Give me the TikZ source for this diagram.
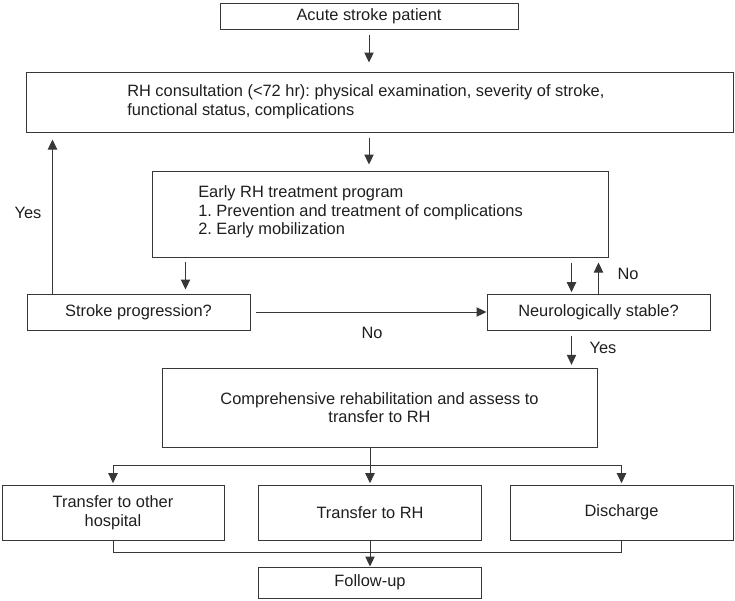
\documentclass[tikz,border=0pt]{standalone}
\usepackage{fontspec}
\setmainfont{Liberation Sans}
\usetikzlibrary{arrows.meta}
\definecolor{boxline}{RGB}{55, 55, 55}
\definecolor{boxtext}{RGB}{30, 30, 30}
\frenchspacing

\begin{document}
\begin{tikzpicture}[x=0.75pt, y=-0.75pt,
        box/.style={draw=boxline, line width=0.75pt, inner sep=0pt, text=boxtext, align=center,
                    font=\fontsize{12.3}{14}\selectfont},
        txt/.style={text=boxtext, inner sep=0pt, font=\fontsize{12.3}{14}\selectfont},
        flow/.style={draw=boxline, line width=0.75pt, -{Triangle[length=7.5pt, width=7pt]}},
        wire/.style={draw=boxline, line width=0.75pt}]
        \useasboundingbox (0,0) rectangle (735,600);
            \node[box, minimum width=223.50pt, minimum height=19.50pt] (acute)  at (369.0, 16.0) {Acute stroke patient};
            \node[box, minimum width=530.25pt, minimum height=45.00pt] (rh)     at (379.5,102.0) {};
            \node[txt, anchor=west, align=left]                       (rhtext) at (127.0,102.0)
                 {RH consultation (<72 hr): physical examination, severity of stroke,\\functional status, complications};
            \node[box, minimum width=342.00pt, minimum height=64.50pt] (early)  at (380.0,214.0) {};
            \node[txt, anchor=west, align=left]                       (earlytext) at (198.0,212.0)
                 {Early RH treatment program\\1. Prevention and treatment of complications\\2. Early mobilization};
            \node[box, minimum width=167.25pt, minimum height=27.00pt] (stroke) at (138.5,312.0) {Stroke progression?};
            \node[box, minimum width=167.25pt, minimum height=27.00pt] (neuro)  at (598.5,312.0) {Neurologically stable?};
            \node[box, minimum width=326.25pt, minimum height=59.25pt] (comp)   at (379.5,407.5)
                 {Comprehensive rehabilitation and assess to\\transfer to RH};
            \node[box, minimum width=166.50pt, minimum height=41.25pt] (other)  at (113.0,512.5) {Transfer to other\\hospital};
            \node[box, minimum width=167.25pt, minimum height=41.25pt] (rhtr)   at (370.0,512.5) {Transfer to RH};
            \node[box, minimum width=167.25pt, minimum height=41.25pt] (disch)  at (621.5,512.5) {Discharge};
            \node[box, minimum width=167.25pt, minimum height=23.25pt] (follow) at (370.0,582.5) {Follow-up};

            \node[txt] (yesleft)  at ( 28.0,213.0) {Yes};
            \node[txt] (nomid)    at (372.0,333.0) {No};
            \node[txt] (noright)  at (628.0,274.0) {No};
            \node[txt] (yesright) at (603.0,348.0) {Yes};

            \draw[flow, shorten <=3.75pt, shorten >=6.75pt] (acute.south) -- (acute.south |- rh.north);
            \draw[flow, shorten <=3.75pt, shorten >=4.50pt] (acute.south |- rh.south) -- (acute.south |- early.north);
            \draw[flow, shorten <=3.00pt, shorten >=3.00pt] ([xshift=25.5pt]early.south west) -- ([xshift=25.5pt]early.south west |- stroke.north);
            \draw[flow, shorten >=5.25pt]                   ([xshift=19.5pt]stroke.north west) -- ([xshift=19.5pt]stroke.north west |- rh.south);
            \draw[flow, shorten <=3.75pt]                   (stroke.east) -- (neuro.west);
            \draw[flow, shorten <=3.75pt, shorten >=1.00pt] ([xshift=63.75pt]neuro.north west |- early.south) -- ([xshift=63.75pt]neuro.north west);
            \draw[flow, shorten >=3.75pt]                   (neuro.north) -- (neuro.north |- early.south);
            \draw[flow, shorten <=3.75pt, shorten >=2.00pt] ([xshift=63.75pt]neuro.south west) -- ([xshift=63.75pt]neuro.south west |- comp.north);

            \draw[wire] (rhtr.north |- comp.south) -- (rhtr.north |- 0,465) coordinate (split);
            \draw[flow, shorten >=1pt] (split) -- (rhtr.north);
            \draw[flow, shorten >=1pt] (split) -| (other.north);
            \draw[flow, shorten >=1pt] (split) -| (disch.north);
            \draw[wire] (other.south) -- ++(0,12) -| (disch.south);
            \draw[flow] (rhtr.south) -- (follow.north);
\end{tikzpicture}
\end{document}
